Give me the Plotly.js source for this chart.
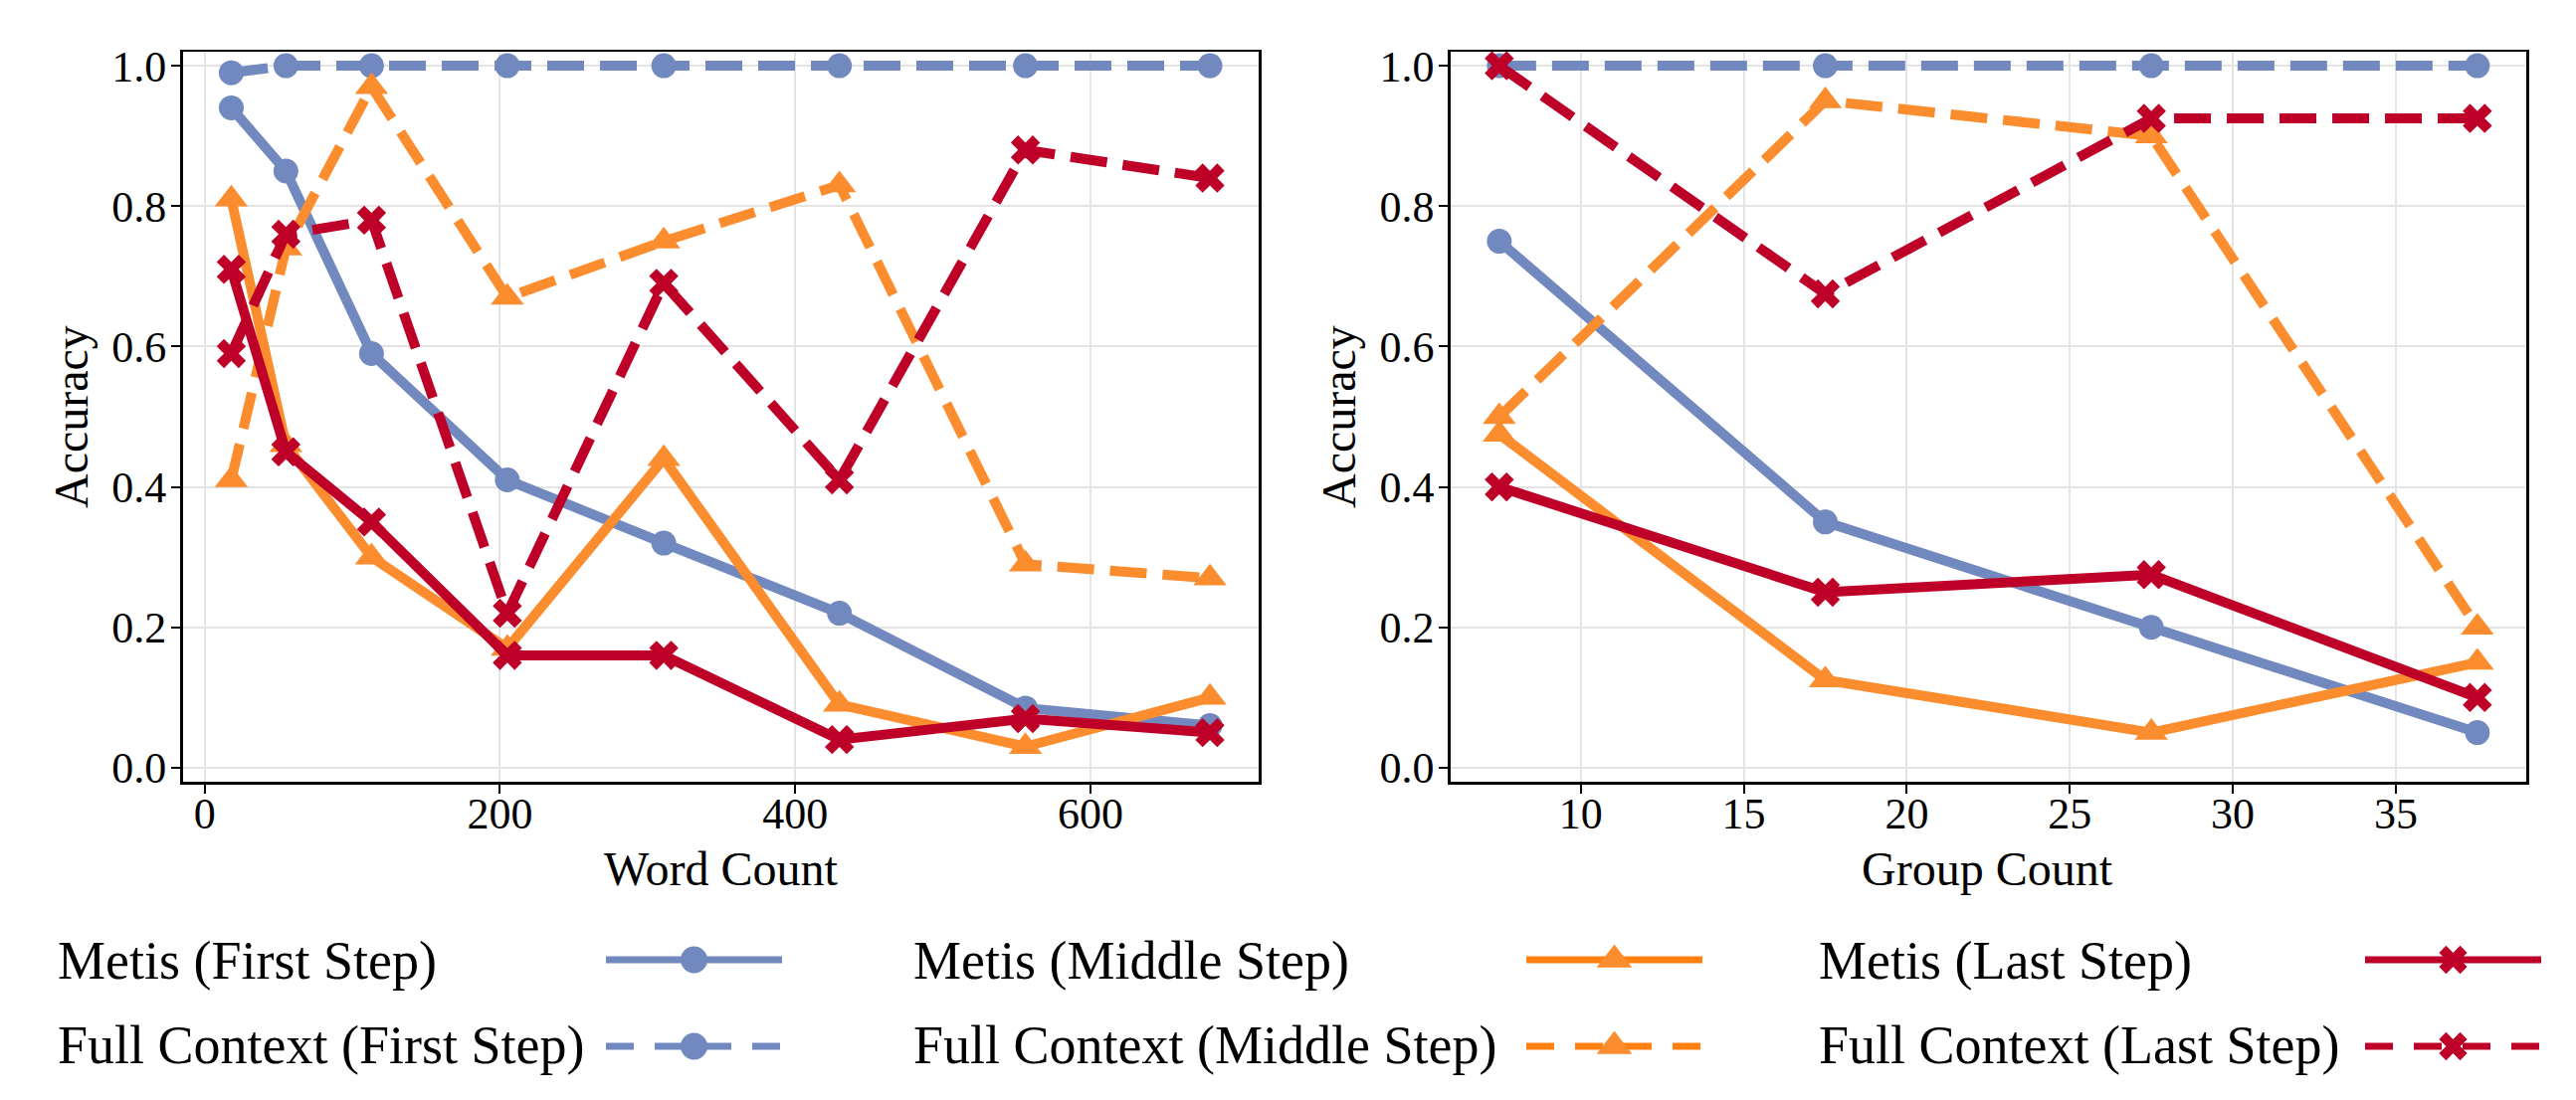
<!DOCTYPE html>
<html>
<head>
<meta charset="utf-8">
<script src="https://cdn.plot.ly/plotly-3.0.1.min.js"></script>
<style>html,body{margin:0;padding:0;background:#fff;}#chart{width:2589px;height:1106px;}</style>
</head>
<body>
<div id="chart"></div>
<script>
// ---------- DATA ----------
const wordCount = [18, 55, 113, 205, 311, 430, 556, 681];
const groupCount = [7.5, 17.5, 27.5, 37.5];

const seriesNames = [
  "Metis (First Step)", "Full Context (First Step)",
  "Metis (Middle Step)", "Full Context (Middle Step)",
  "Metis (Last Step)", "Full Context (Last Step)"
];

// Word Count panel
const wcMetisFirst  = [0.94, 0.85, 0.59, 0.41, 0.32, 0.22, 0.085, 0.06];
const wcFullFirst   = [0.99, 1.00, 1.00, 1.00, 1.00, 1.00, 1.00, 1.00];
const wcMetisMiddle = [0.81, 0.46, 0.30, 0.17, 0.44, 0.09, 0.03, 0.10];
const wcFullMiddle  = [0.41, 0.74, 0.97, 0.67, 0.75, 0.83, 0.29, 0.27];
const wcMetisLast   = [0.71, 0.45, 0.35, 0.16, 0.16, 0.04, 0.07, 0.05];
const wcFullLast    = [0.59, 0.76, 0.78, 0.22, 0.69, 0.41, 0.88, 0.84];

// Group Count panel
const gcMetisFirst  = [0.75, 0.35, 0.20, 0.05];
const gcFullFirst   = [1.00, 1.00, 1.00, 1.00];
const gcMetisMiddle = [0.475, 0.125, 0.05, 0.15];
const gcFullMiddle  = [0.50, 0.95, 0.90, 0.20];
const gcMetisLast   = [0.40, 0.25, 0.275, 0.10];
const gcFullLast    = [1.00, 0.675, 0.925, 0.925];

const wcTicks = [0, 200, 400, 600];
const gcTicks = [10, 15, 20, 25, 30, 35];
const accTicks = [0, 0.2, 0.4, 0.6, 0.8, 1.0];
const accTickText = ["0.0", "0.2", "0.4", "0.6", "0.8", "1.0"];

// ---------- STYLE ----------
const W = 2589, H = 1106;
const FONT = "Liberation Serif, Times New Roman, serif";
const BLUE = "#7289BF", ORANGE = "#FB8D2F", RED = "#BE0028";
const styles = [
  {color: BLUE,   keyLine: BLUE,      symbol: "circle",      size: 25, keySize: 27, dash: "solid"},
  {color: BLUE,   keyLine: BLUE,      symbol: "circle",      size: 25, keySize: 27, dash: "37px,16px"},
  {color: ORANGE, keyLine: "#FF800E", symbol: "triangle-up", size: 29, keySize: 31, dash: "solid"},
  {color: ORANGE, keyLine: "#FF800E", symbol: "triangle-up", size: 29, keySize: 31, dash: "37px,16px"},
  {color: RED,    keyLine: RED,       symbol: "x",           size: 26, keySize: 25, dash: "solid"},
  {color: RED,    keyLine: RED,       symbol: "x",           size: 26, keySize: 25, dash: "37px,16px"}
];
const LW = 10, KEY_LW = 7;

const wcSeries = [wcMetisFirst, wcFullFirst, wcMetisMiddle, wcFullMiddle, wcMetisLast, wcFullLast];
const gcSeries = [gcMetisFirst, gcFullFirst, gcMetisMiddle, gcFullMiddle, gcMetisLast, gcFullLast];

const traces = [];
function addPanel(xs, series, xa, ya) {
  series.forEach((ys, i) => {
    const s = styles[i];
    traces.push({
      type: "scatter", mode: "lines+markers", x: xs, y: ys,
      xaxis: xa, yaxis: ya, name: seriesNames[i], showlegend: false,
      line: {color: s.color, width: LW, dash: s.dash},
      marker: {color: s.color, symbol: s.symbol, size: s.size, line: {width: 0}},
      hoverinfo: "x+y+name"
    });
  });
}
addPanel(wordCount, wcSeries, "x", "y");
addPanel(groupCount, gcSeries, "x2", "y2");

// ---------- Custom legend (text first, then key, like the original) ----------
const legendCols = [
  {textX: 56,   keyX0: 609,  keyX1: 786},
  {textX: 916,  keyX0: 1534, keyX1: 1711},
  {textX: 1826, keyX0: 2377, keyX1: 2554}
];
const legendRows = [{keyY: 965, textY: 966}, {keyY: 1052, textY: 1051}];
const annotations = [];
seriesNames.forEach((name, i) => {
  const col = legendCols[Math.floor(i / 2)], row = legendRows[i % 2], s = styles[i];
  const xc = (col.keyX0 + col.keyX1) / 2;
  traces.push({
    type: "scatter", mode: "lines", x: [col.keyX0, col.keyX1], y: [row.keyY, row.keyY],
    xaxis: "x3", yaxis: "y3", showlegend: false, hoverinfo: "skip",
    line: {color: s.keyLine, width: KEY_LW, dash: s.dash === "solid" ? "solid" : "28px,21px"}
  });
  traces.push({
    type: "scatter", mode: "markers", x: [xc], y: [row.keyY],
    xaxis: "x3", yaxis: "y3", showlegend: false, hoverinfo: "skip",
    marker: {color: s.color, symbol: s.symbol, size: s.keySize, line: {width: 0}}
  });
  annotations.push({
    text: name, xref: "paper", yref: "paper", x: col.textX / W, y: 1 - row.textY / H,
    xanchor: "left", yanchor: "middle", showarrow: false,
    font: {family: FONT, size: 54, color: "#000"}
  });
});

// axis titles
annotations.push(
  {text: "Word Count", xref: "paper", yref: "paper", x: 724 / W, y: 1 - 873 / H,
   xanchor: "center", yanchor: "middle", showarrow: false, font: {family: FONT, size: 48, color: "#000"}},
  {text: "Group Count", xref: "paper", yref: "paper", x: 1998 / W, y: 1 - 873 / H,
   xanchor: "center", yanchor: "middle", showarrow: false, font: {family: FONT, size: 48, color: "#000"}},
  {text: "Accuracy", xref: "paper", yref: "paper", x: 71 / W, y: 1 - 419 / H, textangle: -90,
   xanchor: "center", yanchor: "middle", showarrow: false, font: {family: FONT, size: 48, color: "#000"}},
  {text: "Accuracy", xref: "paper", yref: "paper", x: 1345 / W, y: 1 - 419 / H, textangle: -90,
   xanchor: "center", yanchor: "middle", showarrow: false, font: {family: FONT, size: 48, color: "#000"}}
);

const axisCommon = {
  showline: true, mirror: true, linecolor: "#000", linewidth: 2.5,
  ticks: "outside", ticklen: 9, tickwidth: 2, tickcolor: "#000",
  showgrid: true, gridcolor: "#e4e4e4", gridwidth: 2, zeroline: false,
  tickfont: {family: FONT, size: 44, color: "#000"}, fixedrange: true
};
const xAxisCommon = Object.assign({}, axisCommon, {ticklabelstandoff: -17});
const yAxisCommon = Object.assign({}, axisCommon, {ticklabelstandoff: -4});
const yDomain = [1 - 786 / H, 1 - 52 / H];

const layout = {
  width: W, height: H,
  margin: {l: 0, r: 0, t: 0, b: 0, pad: 0},
  paper_bgcolor: "#fff", plot_bgcolor: "rgba(0,0,0,0)",
  showlegend: false,
  xaxis: Object.assign({}, xAxisCommon, {domain: [183.5 / W, 1265 / W], range: [-15, 714],
    tickmode: "array", tickvals: wcTicks, anchor: "y"}),
  yaxis: Object.assign({}, yAxisCommon, {domain: yDomain, range: [-0.02, 1.02],
    tickmode: "array", tickvals: accTicks, ticktext: accTickText, anchor: "x"}),
  xaxis2: Object.assign({}, xAxisCommon, {domain: [1457.7 / W, 2539 / W], range: [6, 39],
    tickmode: "array", tickvals: gcTicks, anchor: "y2"}),
  yaxis2: Object.assign({}, yAxisCommon, {domain: yDomain, range: [-0.02, 1.02],
    tickmode: "array", tickvals: accTicks, ticktext: accTickText, anchor: "x2"}),
  xaxis3: {domain: [0, 1], range: [0, W], visible: false, fixedrange: true, anchor: "y3"},
  yaxis3: {domain: [0, 1], range: [H, 0], visible: false, fixedrange: true, anchor: "x3"},
  annotations: annotations
};

Plotly.newPlot("chart", traces, layout, {displayModeBar: false, staticPlot: true});
</script>
</body>
</html>
